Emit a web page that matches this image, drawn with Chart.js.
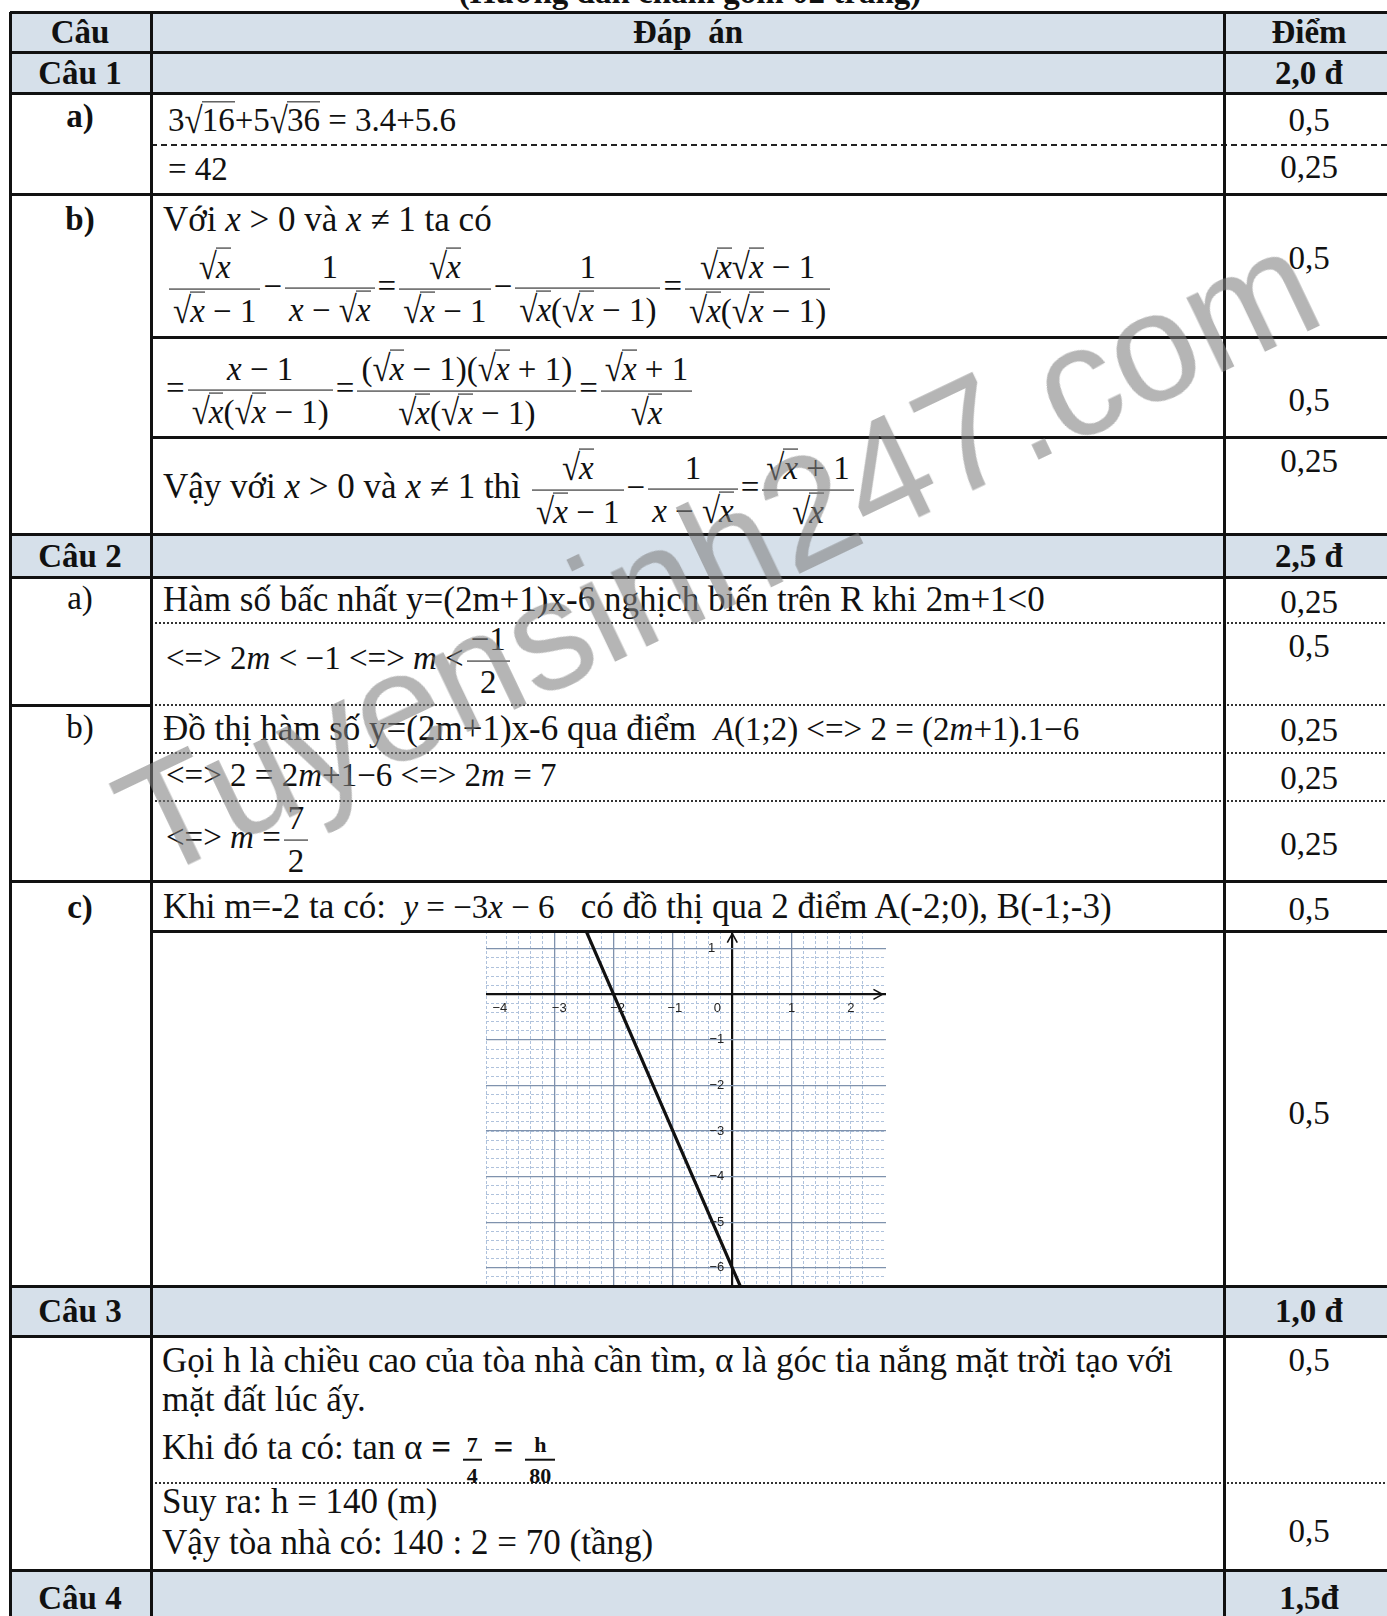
<!DOCTYPE html>
<html>
<head>
<meta charset="utf-8">
<script src="https://cdn.jsdelivr.net/npm/chart.js@4"></script>
<style>
  html, body { margin: 0; padding: 0; background: #fff; }
  #page { position: relative; width: 1387px; height: 1616px; overflow: hidden; font-family: "Liberation Serif", serif; font-size: 35px; color: #111; }
  .t { position: absolute; transform: translateY(-50%); white-space: nowrap; line-height: 1.1; }
  .t.c { transform: translate(-50%, -50%); }
  .b { font-weight: bold; }
  .h { font-size: 33px; }
  .mt { font-size: 33px; }
  .shade { position: absolute; background: #d6e0ea; }
  .hl { position: absolute; height: 2.5px; background: #111; }
  .hl.dash { height: 1.8px; background: repeating-linear-gradient(90deg, #222 0 6px, transparent 6px 10px); }
  .hl.dot { height: 1.8px; background: repeating-linear-gradient(90deg, #333 0 2px, transparent 2px 4px); }
  .vl { position: absolute; width: 2.5px; background: #111; }
  .sq { white-space: nowrap; }
  .rd { display: inline-block; transform: scaleY(1.12); }
  .ov { display: inline-block; border-top: 1.6px solid #111; line-height: 1.05; padding-top: 1px; margin-left: -1px; }
  .fr { display: inline-flex; flex-direction: column; vertical-align: middle; text-align: center; margin: 0 3px; }
  .nu { border-bottom: 1.8px solid #111; padding: 0 4px 2px; line-height: 1.15; }
  .de { padding: 2px 4px 0; line-height: 1.15; }
  .sm { font-size: 22px; font-weight: bold; position: relative; top: 9px; }
  .sm .nu { border-bottom-width: 2.5px; }
  #graph { position: absolute; left: 486px; top: 931px; width: 400px; height: 355px; }
  #wm { position: absolute; left: 150px; top: 752px; font-family: "Liberation Sans", sans-serif; font-size: 155px; line-height: 155px; color: rgba(128,128,128,0.58); transform-origin: 0 126px; transform: rotate(-25.5deg); white-space: nowrap; }
</style>
</head>
<body>
<div id="page">
  <div id="graph"><canvas id="chart"></canvas></div>
</div>
<script>
// graph of y = -3x - 6
const lineX = [-2.6, -2, -1, 0, 0.2];
const lineY = [1.8, 0, -3, -6, -6.6];
const xTicks = [-4, -3, -2, -1, 0, 1, 2];
const xTickLabels = ['\u22124', '\u22123', '\u22122', '\u22121', '0', '1', '2'];
const yTicks = [1, -1, -2, -3, -4, -5, -6];
const yTickLabels = ['1', '\u22121', '\u22122', '\u22123', '\u22124', '\u22125', '\u22126'];
const xRange = [-4.15, 2.59];
const yRange = [-6.4, 1.39];

const page = document.getElementById('page');

function put(x, y, html, cls) {
  const d = document.createElement('div');
  d.className = 't ' + (cls || '');
  d.style.left = x + 'px';
  d.style.top = y + 'px';
  d.innerHTML = html;
  page.appendChild(d);
}
function hl(x1, x2, y, cls) {
  const d = document.createElement('div');
  d.className = 'hl ' + (cls || '');
  d.style.left = x1 + 'px';
  d.style.width = (x2 - x1) + 'px';
  d.style.top = (y - 1) + 'px';
  page.appendChild(d);
}
function vl(x, y1, y2) {
  const d = document.createElement('div');
  d.className = 'vl';
  d.style.left = (x - 1) + 'px';
  d.style.top = y1 + 'px';
  d.style.height = (y2 - y1) + 'px';
  page.appendChild(d);
}
function shade(y1, y2) {
  const d = document.createElement('div');
  d.className = 'shade';
  d.style.left = '10px';
  d.style.width = '1377px';
  d.style.top = y1 + 'px';
  d.style.height = (y2 - y1) + 'px';
  page.appendChild(d);
}
function sq(s) { return '<span class="sq"><span class="rd">\u221A</span><span class="ov">' + s + '</span></span>'; }
function fr(n, d, c) { return '<span class="fr ' + (c || '') + '"><span class="nu">' + n + '</span><span class="de">' + d + '</span></span>'; }
const X = '<i>x</i>';
const m = '<i>m</i>';

// shaded title rows
shade(12, 52); shade(52, 93); shade(534, 577); shade(1286, 1336); shade(1570, 1616);

// table lines
[12, 52, 93, 194, 534, 577, 881, 1286, 1336, 1570].forEach(y => hl(10, 1387, y));
[337, 437, 931].forEach(y => hl(151, 1387, y));
hl(151, 1387, 145, 'dash');
hl(10, 151, 705);
[623, 705, 753, 801, 1483].forEach(y => hl(151, 1387, y, 'dot'));
vl(10, 12, 1616); vl(151, 12, 1616); vl(1224, 12, 1616);

// caption
put(690, -8, '(Hướng dẫn chấm gồm 02 trang)', 'c b h');

// header
put(80, 32, 'Câu', 'c b h');
put(688, 32, 'Đáp&nbsp; án', 'c b h');
put(1309, 32, 'Điểm', 'c b h');

// Câu 1
put(80, 73, 'Câu 1', 'c b h');
put(1309, 73, '2,0 đ', 'c b h');
put(80, 116, 'a)', 'c b h');
put(168, 120, '3' + sq('16') + '+5' + sq('36') + ' = 3.4+5.6', 'mt');
put(168, 169, '= 42', 'mt');
put(80, 219, 'b)', 'c b h');
put(163, 220, 'Với ' + X + ' &gt; 0 và ' + X + ' ≠ 1 ta có');
put(166, 289,
  fr(sq(X), sq(X) + ' \u2212 1') + '\u2212' + fr('1', X + ' \u2212 ' + sq(X)) + '=' +
  fr(sq(X), sq(X) + ' \u2212 1') + '\u2212' + fr('1', sq(X) + '(' + sq(X) + ' \u2212 1)') + '=' +
  fr(sq(X) + sq(X) + ' \u2212 1', sq(X) + '(' + sq(X) + ' \u2212 1)'), 'mt');
put(166, 391,
  '=' + fr(X + ' \u2212 1', sq(X) + '(' + sq(X) + ' \u2212 1)') + '=' +
  fr('(' + sq(X) + ' \u2212 1)(' + sq(X) + ' + 1)', sq(X) + '(' + sq(X) + ' \u2212 1)') + '=' +
  fr(sq(X) + ' + 1', sq(X)), 'mt');
put(163, 490,
  '<span style="font-size:35px">Vậy với ' + X + ' &gt; 0 và ' + X + ' ≠ 1 thì</span> ' +
  fr(sq(X), sq(X) + ' \u2212 1') + '\u2212' + fr('1', X + ' \u2212 ' + sq(X)) + '=' + fr(sq(X) + ' + 1', sq(X)), 'mt');

// Câu 2
put(80, 556, 'Câu 2', 'c b h');
put(1309, 556, '2,5 đ', 'c b h');
put(80, 598, 'a)', 'c h');
put(163, 600, 'Hàm số bấc nhất y=(2m+1)x-6 nghịch biến trên R khi 2m+1&lt;0');
put(166, 661, '&lt;=&gt; 2' + m + ' &lt; \u22121 &lt;=&gt; ' + m + ' &lt;' + fr('\u22121', '2'), 'mt');
put(80, 727, 'b)', 'c h');
put(163, 729, 'Đồ thị hàm số y=(2m+1)x-6 qua điểm&nbsp; <span class="mt"><i>A</i>(1;2) &lt;=&gt; 2 = (2' + m + '+1).1\u22126</span>');
put(166, 775, '&lt;=&gt; 2 = 2' + m + '+1\u22126 &lt;=&gt; 2' + m + ' = 7', 'mt');
put(166, 840, '&lt;=&gt; ' + m + ' =' + fr('7', '2'), 'mt');
put(80, 907, 'c)', 'c b h');
put(163, 907, 'Khi m=-2 ta có:&nbsp; <span class="mt"><i>y</i> = \u22123' + X + ' \u2212 6</span>&nbsp;&nbsp; có đồ thị qua 2 điểm A(-2;0), B(-1;-3)');

// Câu 3
put(80, 1311, 'Câu 3', 'c b h');
put(1309, 1311, '1,0 đ', 'c b h');
put(162, 1361, 'Gọi h là chiều cao của tòa nhà cần tìm, α là góc tia nắng mặt trời tạo với');
put(162, 1400, 'mặt đất lúc ấy.');
put(162, 1451, 'Khi đó ta có: tan α <b>=</b> ' + fr('7', '4', 'sm') + ' <b>=</b> ' + fr('h', '80', 'sm'));
put(162, 1502, 'Suy ra: h = 140 (m)');
put(162, 1543, 'Vậy tòa nhà có: 140 : 2 = 70 (tầng)');

// Câu 4
put(80, 1598, 'Câu 4', 'c b h');
put(1309, 1598, '1,5đ', 'c b h');

// scores
const scoreY = [120, 167, 258, 400, 461, 602, 646, 730, 778, 844, 909, 1113, 1360, 1531];
const scoreText = ['0,5', '0,25', '0,5', '0,5', '0,25', '0,25', '0,5', '0,25', '0,25', '0,25', '0,5', '0,5', '0,5', '0,5'];
scoreY.forEach((y, i) => put(1309, y, scoreText[i], 'c h'));

// watermark
const wm = document.createElement('div');
wm.id = 'wm';
wm.textContent = 'Tuyensinh247.com';

const isInt = v => Math.abs(v - Math.round(v)) < 1e-6;
const xLabelDx = [5, 5, 4, 2, -15, 0, 0];
const yLabelDx = [-19, -10, -10, -10, -10, -10, -10];

const axisPlugin = {
  id: 'axisLabels',
  afterDatasetsDraw(chart) {
    const ctx = chart.ctx;
    const xs = chart.scales.x, ys = chart.scales.y;
    const x0 = xs.getPixelForValue(0), y0 = ys.getPixelForValue(0);
    ctx.save();
    ctx.font = '13px "Liberation Sans", Arial, sans-serif';
    ctx.fillStyle = '#222';
    ctx.textBaseline = 'middle';
    ctx.textAlign = 'center';
    xTicks.forEach((v, i) => ctx.fillText(xTickLabels[i], xs.getPixelForValue(v) + xLabelDx[i], y0 + 14));
    ctx.textAlign = 'right';
    yTicks.forEach((v, i) => ctx.fillText(yTickLabels[i], x0 + yLabelDx[i] + 2, ys.getPixelForValue(v)));
    // arrow heads
    ctx.strokeStyle = '#111';
    ctx.lineWidth = 1.6;
    const ax = xs.getPixelForValue(2.53), ay = ys.getPixelForValue(1.33);
    ctx.beginPath();
    ctx.moveTo(ax - 9, y0 - 5); ctx.lineTo(ax, y0); ctx.lineTo(ax - 9, y0 + 5);
    ctx.moveTo(x0 - 5, ay + 9); ctx.lineTo(x0, ay); ctx.lineTo(x0 + 5, ay + 9);
    ctx.stroke();
    ctx.restore();
  }
};

function majorGrid() {
  return {
    color: c => Math.abs(c.tick.value) < 1e-6 ? '#111' : (isInt(c.tick.value) ? '#7f92ad' : 'rgba(0,0,0,0)'),
    lineWidth: c => Math.abs(c.tick.value) < 1e-6 ? 2.2 : 1.3,
    drawTicks: false
  };
}
function minorGrid() {
  return { color: '#afc2dc', lineWidth: 1, drawTicks: false };
}

new Chart(document.getElementById('chart'), {
  type: 'line',
  data: {
    datasets: [{
      data: lineX.map((x, i) => ({ x: x, y: lineY[i] })),
      borderColor: '#111',
      borderWidth: 3.2,
      pointRadius: 0,
      tension: 0,
      xAxisID: 'x',
      yAxisID: 'y'
    }]
  },
  options: {
    responsive: true,
    maintainAspectRatio: false,
    animation: false,
    layout: { padding: 0, autoPadding: false },
    plugins: { legend: { display: false }, tooltip: { enabled: false } },
    scales: {
      x2: { type: 'linear', position: 'bottom', min: xRange[0], max: xRange[1], z: -2,
        ticks: { display: false, stepSize: 0.2 }, grid: minorGrid(), border: { display: false, dash: [3, 2] } },
      y2: { type: 'linear', position: 'left', min: yRange[0], max: yRange[1], z: -2,
        ticks: { display: false, stepSize: 0.2 }, grid: minorGrid(), border: { display: false, dash: [3, 2] } },
      x: { type: 'linear', position: 'bottom', min: xRange[0], max: xRange[1], z: -1,
        ticks: { display: false, stepSize: 1 }, grid: majorGrid(), border: { display: false } },
      y: { type: 'linear', position: 'left', min: yRange[0], max: yRange[1], z: -1,
        ticks: { display: false, stepSize: 1 }, grid: majorGrid(), border: { display: false } }
    }
  },
  plugins: [axisPlugin]
});

page.appendChild(wm);
</script>
</body>
</html>
